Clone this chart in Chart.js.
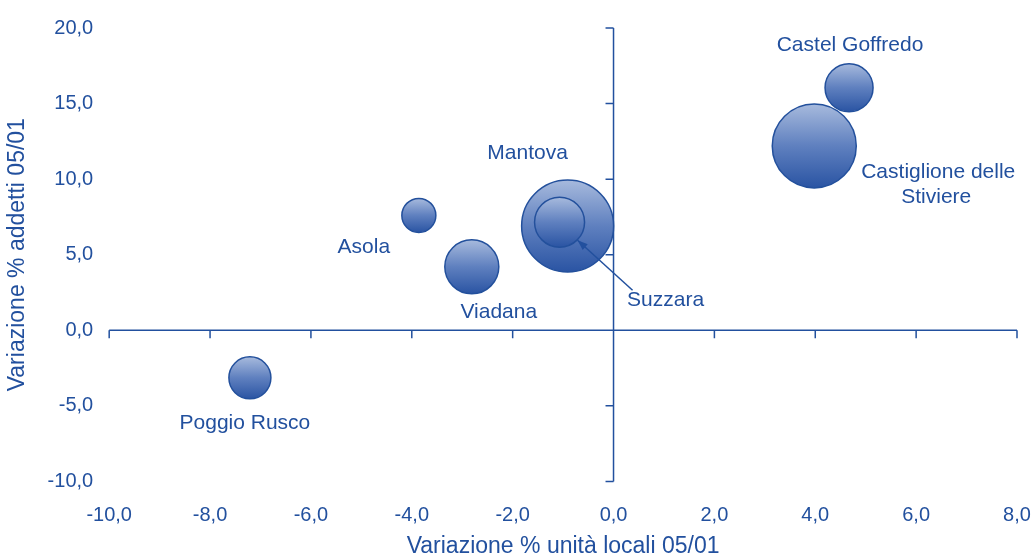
<!DOCTYPE html>
<html>
<head>
<meta charset="utf-8">
<script src="https://cdn.jsdelivr.net/npm/chart.js@4/dist/chart.umd.min.js"></script>
<style>
  html, body { margin: 0; padding: 0; background: #fff; }
  #wrap { width: 1033px; height: 560px; }
</style>
</head>
<body>
<div id="wrap"><canvas id="grafico"></canvas></div>
<script>
// ================== DATI ==================
const comuni = ["Castiglione delle Stiviere", "Castel Goffredo", "Mantova", "Suzzara", "Asola", "Viadana", "Poggio Rusco"];
const varUnitaLocali = [3.98, 4.67, -0.91, -1.07, -3.86, -2.81, -7.21];
const varAddetti = [12.2, 16.05, 6.9, 7.15, 7.6, 4.2, -3.15];
const dimensione = [42, 24, 46, 25, 17, 27, 21];

const tickX = [-10, -8, -6, -4, -2, 0, 2, 4, 6, 8];
const tickY = [-10, -5, 0, 5, 10, 15, 20];

const BLU = "#22509e";
const FONT = "'Liberation Sans', Arial, sans-serif";

// etichette: spostamento in pixel dal centro della bolla
const etichette = {
  "Castiglione delle Stiviere": [{ t: "Castiglione delle", dx: 124, dy: 26 }, { t: "Stiviere", dx: 122, dy: 51 }],
  "Castel Goffredo": [{ t: "Castel Goffredo", dx: 1, dy: -42 }],
  "Mantova": [{ t: "Mantova", dx: -40, dy: -73 }],
  "Suzzara": [{ t: "Suzzara", dx: 106, dy: 78 }],
  "Asola": [{ t: "Asola", dx: -55, dy: 32 }],
  "Viadana": [{ t: "Viadana", dx: 27, dy: 45 }],
  "Poggio Rusco": [{ t: "Poggio Rusco", dx: -5, dy: 45 }]
};

function fmt(v) {
  return v.toFixed(1).replace(".", ",");
}

// ================== PLUGIN ASSI ==================
const assiCentrali = {
  id: "assiCentrali",
  beforeDatasetsDraw(chart) {
    const { ctx, scales: { x, y } } = chart;
    const x0 = x.getPixelForValue(0), y0 = y.getPixelForValue(0);
    ctx.save();
    ctx.strokeStyle = BLU;
    ctx.lineWidth = 1.5;
    ctx.beginPath();
    ctx.moveTo(x0, y.getPixelForValue(20));
    ctx.lineTo(x0, y.getPixelForValue(-10));
    ctx.moveTo(x.getPixelForValue(-10), y0);
    ctx.lineTo(x.getPixelForValue(8), y0);
    tickY.forEach(v => {
      const py = y.getPixelForValue(v);
      ctx.moveTo(x0 - 8, py);
      ctx.lineTo(x0, py);
    });
    tickX.forEach(v => {
      const px = x.getPixelForValue(v);
      ctx.moveTo(px, y0);
      ctx.lineTo(px, y0 + 8);
    });
    ctx.stroke();
    ctx.restore();
  },
  afterDatasetsDraw(chart) {
    const { ctx, scales: { x, y } } = chart;
    ctx.save();
    ctx.fillStyle = BLU;
    ctx.font = "21px " + FONT;
    ctx.textAlign = "center";
    ctx.textBaseline = "middle";
    comuni.forEach((c, i) => {
      const px = x.getPixelForValue(varUnitaLocali[i]);
      const py = y.getPixelForValue(varAddetti[i]);
      etichette[c].forEach(l => ctx.fillText(l.t, px + l.dx, py + l.dy));
      if (c === "Suzzara") {
        // freccia dall'etichetta alla bolla
        const r = dimensione[i];
        const ex = px + r * 0.72, ey = py + r * 0.72;
        const sx = px + 73, sy = py + 68;
        const ang = Math.atan2(ey - sy, ex - sx);
        ctx.strokeStyle = BLU;
        ctx.lineWidth = 1.5;
        ctx.beginPath();
        ctx.moveTo(sx, sy);
        ctx.lineTo(ex, ey);
        ctx.stroke();
        ctx.beginPath();
        ctx.moveTo(ex, ey);
        ctx.lineTo(ex - 11 * Math.cos(ang - 0.35), ey - 11 * Math.sin(ang - 0.35));
        ctx.lineTo(ex - 11 * Math.cos(ang + 0.35), ey - 11 * Math.sin(ang + 0.35));
        ctx.closePath();
        ctx.fill();
      }
    });
    ctx.restore();
  }
};

// ================== GRAFICO ==================
function sfumatura(context) {
  const chart = context.chart;
  if (!chart.chartArea || !context.raw) return "#4f72b5";
  const y = chart.scales.y.getPixelForValue(context.raw.y);
  const r = context.raw.r;
  const g = chart.ctx.createLinearGradient(0, y - r, 0, y + r);
  g.addColorStop(0, "#a7badd");
  g.addColorStop(0.5, "#5f80bf");
  g.addColorStop(1, "#2a54a3");
  return g;
}

const ctx = document.getElementById("grafico").getContext("2d");
new Chart(ctx, {
  type: "bubble",
  data: {
    labels: comuni,
    datasets: [{
      data: comuni.map((c, i) => ({ x: varUnitaLocali[i], y: varAddetti[i], r: dimensione[i] })),
      backgroundColor: sfumatura,
      borderColor: "#23509c",
      borderWidth: 1.5,
      hoverRadius: 0,
      clip: false
    }]
  },
  plugins: [assiCentrali],
  options: {
    responsive: true,
    maintainAspectRatio: false,
    animation: false,
    layout: { autoPadding: false, padding: { top: 14, right: 0, left: 4, bottom: 0 } },
    plugins: { legend: { display: false }, tooltip: { enabled: false } },
    scales: {
      x: {
        type: "linear",
        min: -10, max: 8,
        afterBuildTicks: s => { s.ticks = tickX.map(v => ({ value: v })); },
        afterFit: s => { s.paddingRight = 16; },
        grid: { display: false, drawTicks: false },
        border: { display: false },
        ticks: { color: BLU, font: { family: FONT, size: 20 }, padding: 22, callback: v => fmt(v) },
        title: { display: true, text: "Variazione % unità locali 05/01", color: BLU, font: { family: FONT, size: 23 }, padding: { top: -17, bottom: 0 } }
      },
      y: {
        type: "linear",
        min: -10, max: 20,
        afterBuildTicks: s => { s.ticks = tickY.map(v => ({ value: v })); },
        grid: { display: false, drawTicks: false },
        border: { display: false },
        ticks: { color: BLU, font: { family: FONT, size: 20 }, padding: 16, callback: v => fmt(v) },
        title: { display: true, text: "Variazione % addetti 05/01", color: BLU, font: { family: FONT, size: 23 }, padding: { top: 0, bottom: 0 } }
      }
    }
  }
});
</script>
</body>
</html>
